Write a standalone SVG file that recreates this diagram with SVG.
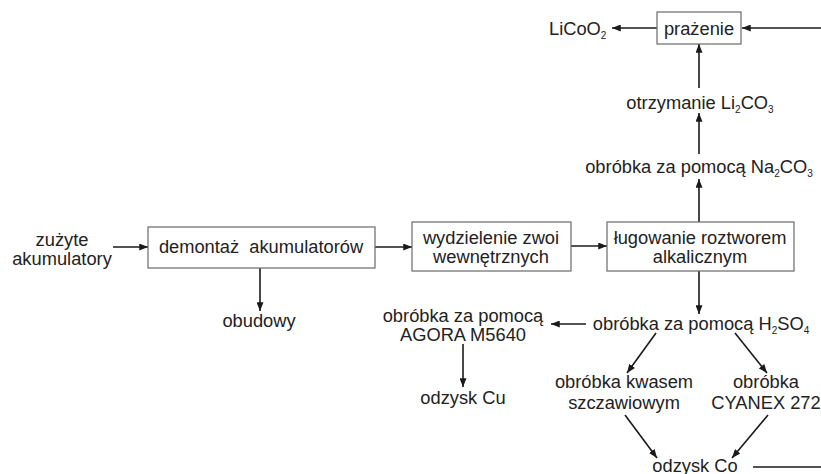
<svg xmlns="http://www.w3.org/2000/svg" width="821" height="474" viewBox="0 0 821 474">
<defs>
<marker id="ah" viewBox="0 0 10 8" refX="10" refY="4" markerWidth="9" markerHeight="7" markerUnits="userSpaceOnUse" orient="auto">
<path d="M0,0 L10,4 L0,8 Z" fill="#1a1a1a"/>
</marker>
<style>
.t{font-family:"Liberation Sans",Arial,sans-serif;font-size:18.3px;fill:#222;text-anchor:middle}
.ts{font-family:"Liberation Sans",Arial,sans-serif;font-size:18.3px;fill:#222}
.b{fill:#fff;stroke:#6a6a6a;stroke-width:1.2}
.c{stroke:#1a1a1a;stroke-width:1.6;fill:none}
.a{marker-end:url(#ah)}
.s{font-size:10px}
</style>
</defs>
<rect width="821" height="474" fill="#fff"/>
<g id="connectors">
<line class="c a" x1="821" y1="28" x2="742" y2="28"/>
<line class="c a" x1="657" y1="28" x2="612" y2="28"/>
<line class="c a" x1="699" y1="88" x2="699" y2="44"/>
<line class="c a" x1="699" y1="154" x2="699" y2="113"/>
<line class="c a" x1="699" y1="222" x2="699" y2="179"/>
<line class="c a" x1="113" y1="247" x2="148" y2="247"/>
<line class="c a" x1="375" y1="247" x2="412" y2="247"/>
<line class="c a" x1="571" y1="246" x2="607" y2="246"/>
<line class="c a" x1="260" y1="268" x2="260" y2="311"/>
<line class="c a" x1="699" y1="271" x2="699" y2="314"/>
<line class="c a" x1="586" y1="324" x2="551" y2="324"/>
<line class="c a" x1="463" y1="344" x2="463" y2="387"/>
<line class="c a" x1="656" y1="333" x2="627" y2="373"/>
<line class="c a" x1="735" y1="333" x2="767" y2="373"/>
<line class="c a" x1="625" y1="415" x2="657" y2="458"/>
<line class="c a" x1="768" y1="415" x2="732" y2="458"/>
<line class="c" x1="753" y1="467" x2="821" y2="467"/>
</g>
<g id="licoo2"><text class="ts" x="549" y="35">LiCoO<tspan class="s" dy="4">2</tspan></text></g>
<g id="prazenie"><rect class="b" x="657" y="12" width="84" height="32"/><text class="t" x="699" y="35">prażenie</text></g>
<g id="li2co3"><text class="t" x="700" y="109">otrzymanie Li<tspan class="s" dy="4">2</tspan><tspan dy="-4">CO</tspan><tspan class="s" dy="4">3</tspan></text></g>
<g id="na2co3"><text class="t" x="699" y="173">obróbka za pomocą Na<tspan class="s" dy="4">2</tspan><tspan dy="-4">CO</tspan><tspan class="s" dy="4">3</tspan></text></g>
<g id="zuzyte"><text class="t" x="62" y="246">zużyte</text><text class="t" x="62" y="265">akumulatory</text></g>
<g id="demontaz"><rect class="b" x="148" y="227" width="227" height="41"/><text class="t" x="261" y="253" xml:space="preserve">demontaż  akumulatorów</text></g>
<g id="obudowy"><text class="t" x="259" y="327">obudowy</text></g>
<g id="wydzielenie"><rect class="b" x="412" y="222" width="159" height="49"/><text class="t" x="491" y="244">wydzielenie zwoi</text><text class="t" x="491" y="263">wewnętrznych</text></g>
<g id="lugowanie"><rect class="b" x="607" y="222" width="187" height="49"/><text class="t" x="700" y="244">ługowanie roztworem</text><text class="t" x="700" y="263">alkalicznym</text></g>
<g id="h2so4"><text class="t" x="701" y="330">obróbka za pomocą H<tspan class="s" dy="4">2</tspan><tspan dy="-4">SO</tspan><tspan class="s" dy="4">4</tspan></text></g>
<g id="agora"><text class="t" x="463" y="322">obróbka za pomocą</text><text class="t" x="463" y="341">AGORA M5640</text></g>
<g id="odzyskcu"><text class="t" x="463" y="404">odzysk Cu</text></g>
<g id="kwasem"><text class="t" x="624" y="388">obróbka kwasem</text><text class="t" x="624" y="409">szczawiowym</text></g>
<g id="cyanex"><text class="t" x="766" y="388">obróbka</text><text class="t" x="766" y="409">CYANEX 272</text></g>
<g id="odzyskco"><text class="t" x="695" y="472">odzysk Co</text></g>
</svg>
